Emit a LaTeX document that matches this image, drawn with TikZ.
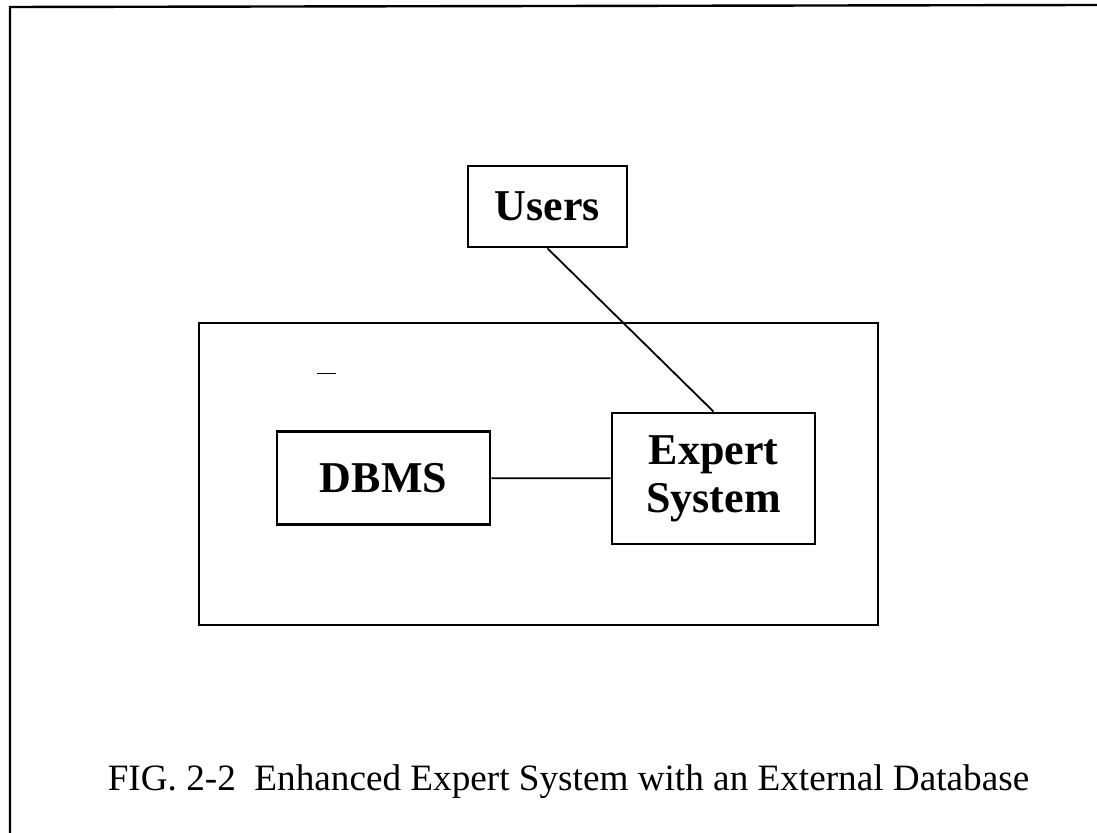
\documentclass[tikz,border=0pt]{standalone}
\usepackage{fontspec}
\setmainfont{Liberation Serif}
\usetikzlibrary{positioning}

\begin{document}
\begin{tikzpicture}[x=0.5pt,y=-0.5pt,
  blk/.style={draw,line width=1.4pt,inner sep=0pt,align=center,font=\fontsize{22}{24}\selectfont\bfseries},
  wire/.style={line width=0.9pt}]
\useasboundingbox (0,0) rectangle (1097,833);

%frame
\draw[line width=1.2pt] (10,833) -- (10,7) -- (1097,5);

%outer box
\node[draw,line width=1.2pt,minimum width=339.5pt,minimum height=151pt] (esys) at (538.5,474) {};
\draw[line width=0.5pt] (317,374) -- (336,374);

%boxes
\node[blk,minimum width=79.5pt,minimum height=40.5pt] (users) at (547.5,206.5) {Users};
\node[blk,minimum width=106.5pt,minimum height=46.5pt] (dbms) at (383.5,478) {DBMS};
\node[blk,minimum width=101.5pt,minimum height=65.5pt] (expert) at (713.5,478.5) {Expert\\System};

%links
\draw[wire] (users.south) -- (expert.north);
\draw[wire] (dbms) -- (expert);

%caption
\node[font=\fontsize{18.6}{20}\selectfont] (cap) at (568.5,782) {FIG. 2-2\ \ Enhanced Expert System with an External Database};
\end{tikzpicture}
\end{document}
